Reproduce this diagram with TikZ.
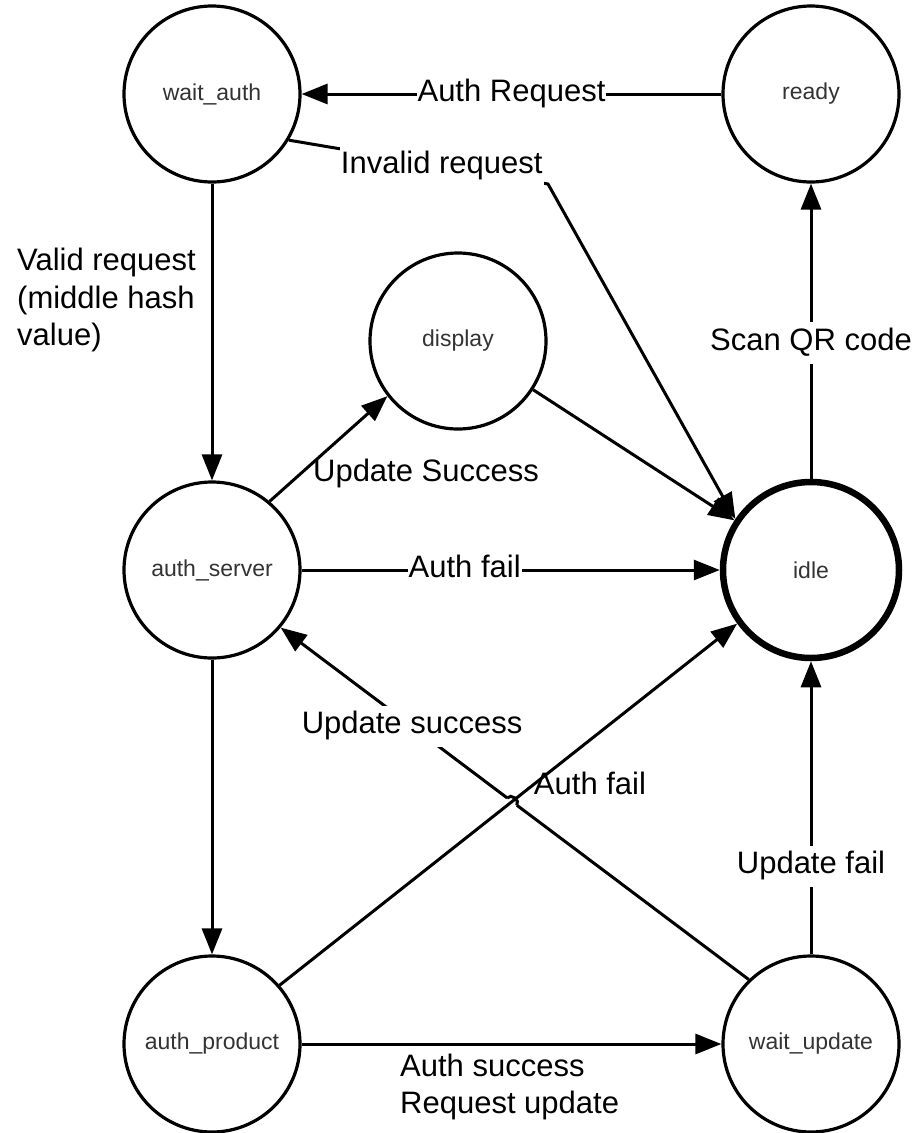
\documentclass[tikz,border=0pt]{standalone}
\usepackage{fontspec}
\setmainfont{Liberation Sans}
\usetikzlibrary{arrows.meta,calc,intersections}
\begin{document}
\begin{tikzpicture}[x=1pt,y=-1pt,
  state/.style={circle, draw=black, line width=3.2pt, minimum size=176pt, inner sep=0pt,
    font=\fontsize{23}{27}\selectfont, text=black!80},
  initstate/.style={state, line width=6.5pt},
  edge/.style={draw=black, line width=3pt, -{Triangle[length=26pt,width=20pt]}},
  plain/.style={draw=black, line width=3pt},
  lbl/.style={fill=white, inner xsep=1pt, inner ysep=2pt,
    font=\fontsize{31}{37.5}\selectfont, text=black, execute at begin node=\strut},
  note/.style={inner sep=0pt, font=\fontsize{31}{37.5}\selectfont, text=black, align=left}]

\useasboundingbox (0,0) rectangle (919,1133);

% states
\node[state] (wait_auth)    at (212,94)   {wait\_auth};
\node[state] (ready)        at (811,94)   {ready};
\node[state] (display)      at (458,341)  {display};
\node[state] (auth_server)  at (212,570)  {auth\_server};
\node[initstate] (idle)     at (811,570)  {idle};
\node[state] (auth_product) at (212,1044) {auth\_product};
\node[state] (wait_update)  at (811,1044) {wait\_update};

% top row
\draw[edge] (ready) -- node[lbl]{Auth Request} (wait_auth);

% invalid request, bending under its label
\coordinate (bend) at (548,184);
\draw[edge] (wait_auth.-31) -- node[lbl,pos=0.59]{Invalid request} (bend) -- (idle.146);

% left column
\draw[edge] (wait_auth) -- (auth_server);
\draw[edge] (auth_server) -- (auth_product);
\node[note, anchor=west] (validnote) at (17,300) {Valid request\\(middle hash\\value)};

% display branch
\draw[edge] (auth_server.50) -- (display.218);
\node[note] (updsucc) at (426,473) {Update Success};
\draw[edge] (display) -- (idle);

% middle row
\draw[edge] (auth_server) -- node[lbl,pos=0.39]{Auth fail} (idle);

% right column
\draw[edge] (idle) -- node[lbl,pos=0.46]{Scan QR code} (ready);
\draw[edge] (wait_update) -- node[lbl,pos=0.30]{Update fail} (idle);

% crossing diagonals with a line hop
\path[name path=pa] (auth_product.41) -- (idle.216);
\path[name path=pb] (wait_update.134) -- (auth_server.-40);
\path[name intersections={of=pa and pb, by=X}];
\coordinate (h1) at ($(X)!6pt!(wait_update.134)$);
\coordinate (h2) at ($(X)!6pt!(auth_server.-40)$);
\draw[plain] (wait_update.134) -- (h1);
\draw[plain] (h1) to[bend right=90, looseness=1.3] (h2);
\draw[edge] (h2) -- node[lbl,pos=0.42]{Update success} (auth_server.-40);
\draw[edge] (auth_product.41) -- (idle.216);
\node[note] (authfail2) at (590,783) {Auth fail};

% bottom row
\draw[edge] (auth_product) -- (wait_update);
\node[note, anchor=west] (succnote) at (400,1087) {Auth success\\Request update};

\end{tikzpicture}
\end{document}
